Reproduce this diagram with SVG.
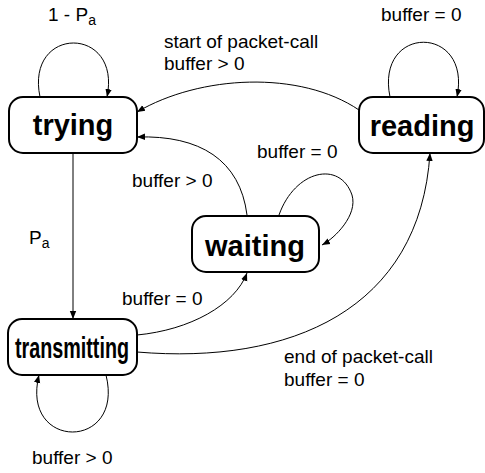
<svg xmlns="http://www.w3.org/2000/svg" width="485" height="473" viewBox="0 0 485 473">
<defs>
<marker id="ah" viewBox="0 0 10 10" refX="10" refY="5" markerWidth="8" markerHeight="8" markerUnits="userSpaceOnUse" orient="auto">
<path d="M0,1 L10,5 L0,9 Z" fill="#000"/>
</marker>
<style>
.node rect{fill:#fff;stroke:#000;stroke-width:2}
.node text{font-family:"Liberation Sans",Arial,sans-serif;font-weight:bold;font-size:29px;text-anchor:middle;fill:#000}
.edges path{fill:none;stroke:#000;stroke-width:1;marker-end:url(#ah)}
.lbl{font-family:"Liberation Sans",Arial,sans-serif;font-size:19px;fill:#000}
.sub{font-size:14px}
</style>
</defs>
<rect width="485" height="473" fill="#fff"/>
<g class="edges" id="connectors">
<path d="M40,97 C25,25 122,25 107,97"/>
<path d="M390,97 C375,24 472,24 457,97"/>
<path d="M359,110 C300,70 200,75 137,112"/>
<path d="M247,215 C240,160 200,135 137,137"/>
<path d="M279,215 C295,170 340,160 352,195 C358,215 335,238 322,245"/>
<path d="M73,153 L73,319"/>
<path d="M106,375 C125,451 20,451 39,375"/>
<path d="M137,335 C190,330 235,305 247,273"/>
<path d="M137,352 C290,365 420,310 430,153"/>
</g>
<g id="trying" class="node"><rect x="9" y="97" width="128" height="56" rx="14"/><text x="73" y="135">trying</text></g>
<g id="reading" class="node"><rect x="359" y="97" width="125" height="56" rx="14"/><text x="422" y="136">reading</text></g>
<g id="waiting" class="node"><rect x="192" y="216" width="127" height="56" rx="14"/><text x="255" y="256">waiting</text></g>
<g id="transmitting" class="node"><rect x="8" y="319" width="129" height="56" rx="14"/><text x="72" y="358" textLength="114" lengthAdjust="spacingAndGlyphs">transmitting</text></g>
<g id="labels">
<text class="lbl" x="48" y="21">1 - P<tspan class="sub" dy="4">a</tspan></text>
<text class="lbl" x="381" y="21">buffer = 0</text>
<text class="lbl" x="164" y="48">start of packet-call</text>
<text class="lbl" x="164" y="70">buffer &gt; 0</text>
<text class="lbl" x="257" y="158">buffer = 0</text>
<text class="lbl" x="132" y="187">buffer &gt; 0</text>
<text class="lbl" x="29" y="244">P<tspan class="sub" dy="4">a</tspan></text>
<text class="lbl" x="122" y="305">buffer = 0</text>
<text class="lbl" x="284" y="363">end of packet-call</text>
<text class="lbl" x="284" y="386">buffer = 0</text>
<text class="lbl" x="32" y="464">buffer &gt; 0</text>
</g>
</svg>
